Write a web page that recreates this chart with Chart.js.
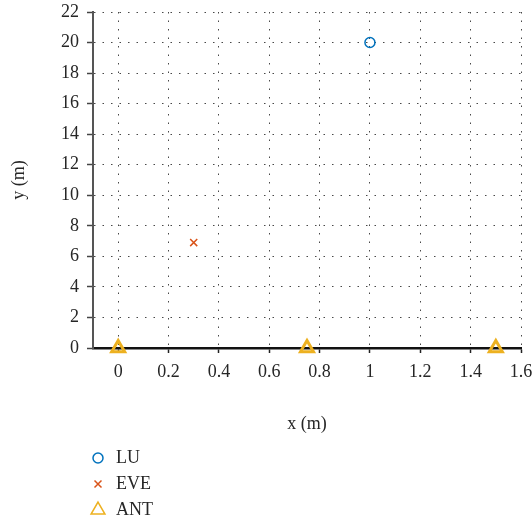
<!DOCTYPE html>
<html>
<head>
<meta charset="utf-8">
<script src="https://cdn.jsdelivr.net/npm/chart.js@4/dist/chart.umd.min.js"></script>
<style>
  html, body { margin: 0; padding: 0; background: #fff; }
  #wrap { width: 532px; height: 524px; }
</style>
</head>
<body>
<div id="wrap"><canvas id="c" width="532" height="524"></canvas></div>
<script>
// ---- data ----
const seriesNames = ['LU', 'EVE', 'ANT'];
const luX = [1];
const luY = [20];
const eveX = [0.3];
const eveY = [6.9];
const antX = [0, 0.75, 1.5];
const antY = [0, 0, 0];
const xTicks = [0, 0.2, 0.4, 0.6, 0.8, 1, 1.2, 1.4, 1.6];
const yTicks = [0, 2, 4, 6, 8, 10, 12, 14, 16, 18, 20, 22];
const xTitle = 'x (m)';
const yTitle = 'y (m)';

const colors = ['#0072BD', '#D95319', '#EDB120'];
const FONT = 'Liberation Serif, Times New Roman, serif';
const TEXT = '#262626';

function pts(xs, ys) { return xs.map((x, i) => ({ x: x, y: ys[i] })); }
function fmt(v) { return String(Number(v.toFixed(2))); }

const legendPlugin = {
  id: 'stackLegend',
  afterDraw(chart) {
    const ctx = chart.ctx;
    const mx = 98, tx = 116;
    const rows = [458, 484, 510];
    ctx.save();
    seriesNames.forEach((name, i) => {
      const y = rows[i];
      ctx.strokeStyle = colors[i];
      ctx.lineWidth = 1.5;
      ctx.setLineDash([]);
      ctx.beginPath();
      if (i === 0) {
        ctx.arc(mx, y, 5, 0, Math.PI * 2);
      } else if (i === 1) {
        ctx.moveTo(mx - 3.5, y - 3.5); ctx.lineTo(mx + 3.5, y + 3.5);
        ctx.moveTo(mx + 3.5, y - 3.5); ctx.lineTo(mx - 3.5, y + 3.5);
      } else {
        const r = 8;
        ctx.moveTo(mx, y - r);
        ctx.lineTo(mx + r * 0.866, y + r / 2);
        ctx.lineTo(mx - r * 0.866, y + r / 2);
        ctx.closePath();
      }
      ctx.stroke();
      ctx.fillStyle = TEXT;
      ctx.font = '18px ' + FONT;
      ctx.textAlign = 'left';
      ctx.textBaseline = 'middle';
      ctx.fillText(name, tx, y);
    });
    ctx.restore();
  }
};

new Chart(document.getElementById('c'), {
  type: 'scatter',
  data: {
    datasets: [
      { label: seriesNames[0], data: pts(luX, luY), pointStyle: 'circle', radius: 5, hoverRadius: 5,
        borderColor: colors[0], backgroundColor: 'rgba(0,0,0,0)', borderWidth: 1.5, clip: false },
      { label: seriesNames[1], data: pts(eveX, eveY), pointStyle: 'crossRot', radius: 5, hoverRadius: 5,
        borderColor: colors[1], backgroundColor: 'rgba(0,0,0,0)', borderWidth: 1.5, clip: false },
      { label: seriesNames[2], data: pts(antX, antY), pointStyle: 'triangle', radius: 7.5, hoverRadius: 7.5,
        borderColor: colors[2], backgroundColor: 'rgba(0,0,0,0)', borderWidth: 3, clip: false }
    ]
  },
  options: {
    responsive: false,
    animation: false,
    events: [],
    layout: { padding: { left: 0, top: 12, right: 11, bottom: 88 } },
    plugins: { legend: { display: false }, tooltip: { enabled: false } },
    scales: {
      x: {
        type: 'linear', min: -0.1, max: 1.6,
        afterBuildTicks: s => { s.ticks = xTicks.map(v => ({ value: v })); },
        afterFit: s => { s.height = 88; s.paddingLeft = 0; s.paddingRight = 0; },
        ticks: { font: { family: FONT, size: 18 }, color: TEXT, padding: 8, maxRotation: 0, autoSkip: false,
                 callback: v => fmt(v) },
        grid: { color: 'rgba(40,40,40,0.85)', lineWidth: 1, tickLength: 5,
                tickColor: '#222', tickWidth: 1.5, tickBorderDash: [] },
        border: { display: true, color: '#111', width: 2.5, dash: [1.5, 7] },
        title: { display: true, text: xTitle, font: { family: FONT, size: 18 }, color: TEXT,
                 padding: { top: 0, bottom: 1 } }
      },
      y: {
        type: 'linear', min: 0, max: 22,
        afterBuildTicks: s => { s.ticks = yTicks.map(v => ({ value: v })); },
        afterFit: s => { s.width = 93; s.paddingTop = 0; s.paddingBottom = 0; },
        ticks: { font: { family: FONT, size: 18 }, color: TEXT, padding: 8, autoSkip: false,
                 callback: v => fmt(v) },
        grid: { color: 'rgba(40,40,40,0.85)', lineWidth: 1, tickLength: 6,
                tickColor: '#444', tickWidth: 1.5, tickBorderDash: [] },
        border: { display: true, color: '#555', width: 2, dash: [1.5, 7] },
        title: { display: true, text: yTitle, font: { family: FONT, size: 18 }, color: TEXT,
                 padding: { top: 8, bottom: 0 } }
      }
    }
  },
  plugins: [legendPlugin]
});
</script>
</body>
</html>
